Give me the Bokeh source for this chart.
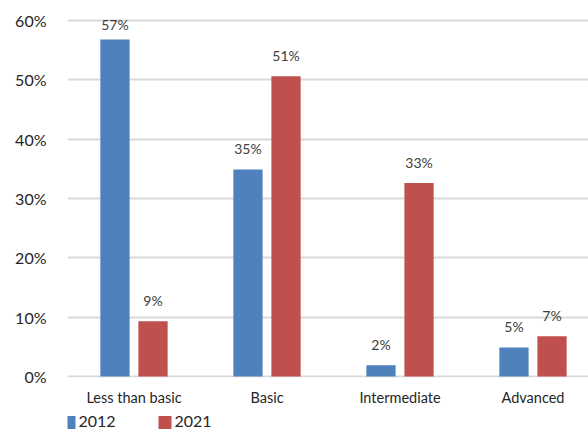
from bokeh.plotting import figure
from bokeh.layouts import column
from bokeh.models import ColumnDataSource, FixedTicker, Range1d
from bokeh.core.properties import value
from bokeh.embed import file_html
from bokeh.resources import INLINE
import numpy as np

categories = ["Less than basic", "Basic", "Intermediate", "Advanced"]
share_2012 = [56.8, 34.9, 1.9, 4.9]
share_2021 = [9.3, 50.6, 32.6, 6.8]
y_ticks = [0, 10, 20, 30, 40, 50, 60]
series_names = ["2012", "2021"]

BLUE = "#4F81BD"
RED = "#C0504D"
FONT = "Lato"

W = 588
left = 67
frame_h = 377
px_per_pct = 356 / 60.0

p = figure(width=W, frame_width=W - left, frame_height=frame_h,
           output_backend="svg", toolbar_location=None,
           min_border_left=left, min_border_right=0, min_border_top=0,
           min_border_bottom=28)
p.x_range = Range1d(0, (W - left) / 133.0)
p.y_range = Range1d(-1 / px_per_pct, (frame_h - 1) / px_per_pct)
p.outline_line_color = None
p.background_fill_color = "white"
p.border_fill_color = "white"

centers = np.arange(len(categories)) + 0.5
offset = 0.143
bar_w = 0.22


def fmt(v):
    return f"{int(np.floor(v + 0.5))}%"


src12 = ColumnDataSource(dict(x=centers - offset, top=share_2012,
                              ly=[min(v + 3.5, 59.4) for v in share_2012],
                              label=[fmt(v) for v in share_2012]))
src21 = ColumnDataSource(dict(x=centers + offset, top=share_2021,
                              ly=[min(v + 3.5, 59.4) for v in share_2021],
                              label=[fmt(v) for v in share_2021]))

p.vbar(x="x", top="top", bottom=0, width=bar_w, source=src12,
       fill_color=BLUE, line_color=None)
p.vbar(x="x", top="top", bottom=0, width=bar_w, source=src21,
       fill_color=RED, line_color=None)

for s in (src12, src21):
    p.text(x="x", y="ly", text="label", source=s, text_align="center",
           text_baseline="middle", text_font=value(FONT),
           text_font_size="14px", text_color="#404040")

# axes
p.yaxis.ticker = FixedTicker(ticks=y_ticks)
p.yaxis.major_label_overrides = {t: f"{t}%" for t in y_ticks}
p.yaxis.axis_line_color = None
p.yaxis.major_tick_line_color = None
p.yaxis.minor_tick_line_color = None
p.yaxis.major_label_standoff = 15
p.yaxis.major_label_text_font = FONT
p.yaxis.major_label_text_font_size = "16px"
p.yaxis.major_label_text_color = "#262626"

p.xaxis.ticker = FixedTicker(ticks=list(centers))
p.xaxis.major_label_overrides = {float(c): n for c, n in zip(centers, categories)}
p.xaxis.axis_line_color = None
p.xaxis.major_tick_line_color = None
p.xaxis.minor_tick_line_color = None
p.xaxis.major_label_standoff = 5
p.xaxis.major_label_text_font = FONT
p.xaxis.major_label_text_font_size = "14.5px"
p.xaxis.major_label_text_color = "#262626"

p.xgrid.grid_line_color = None
p.ygrid.ticker = FixedTicker(ticks=y_ticks)
p.ygrid.grid_line_color = "#D9D9D9"
p.ygrid.grid_line_width = 2

# legend strip underneath the chart; its frame lines up with the chart frame
# (starting at x = left), so the x range gives window-pixel coordinates
LEG_H = 25
lg = figure(width=W, height=LEG_H, output_backend="svg", toolbar_location=None,
            min_border=0, x_range=Range1d(left, W),
            y_range=Range1d(0, LEG_H))
lg.axis.visible = False
lg.grid.visible = False
lg.outline_line_color = None
lg.border_fill_color = "white"
lg.background_fill_color = "white"

swatch_x = [68.5, 164.5]
lg.rect(x=swatch_x, y=[11, 11], width=13, height=13,
        fill_color=[BLUE, RED], line_color=None)
lg.text(x=[sx + 9.5 for sx in swatch_x], y=[12, 12], text=series_names,
        text_baseline="middle", text_align="left", text_font=value(FONT),
        text_font_size="16px", text_color="#262626")

layout = column(p, lg, spacing=0)
open("out.html", "w").write(file_html(layout, INLINE))
